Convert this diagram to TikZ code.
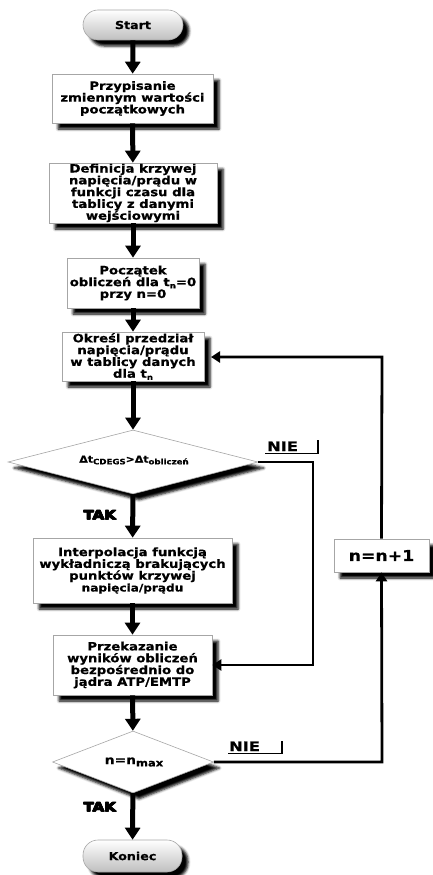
\documentclass[tikz,border=0pt]{standalone}
\usepackage{fontspec}
\setmainfont{DejaVu Sans}[FakeStretch=1.15,BoldFeatures={FakeBold=0.6}]
\newfontfamily\heavyfont{DejaVu Sans Bold}[FakeBold=2,FakeStretch=1.2]
\newfontfamily\labfont{DejaVu Sans Bold}[FakeStretch=1.25,FakeBold=0.8]
\usetikzlibrary{arrows.meta,shapes.geometric,shadows,shadows.blur}
\newcommand\mysub[1]{\raisebox{-0.35ex}{\fontsize{7.5}{7.5}\selectfont #1}}
\tikzset{
  shad/.style={blur shadow={shadow xshift=6pt,shadow yshift=-6pt,shadow blur radius=2.5pt,shadow opacity=100}},
  procbox/.style={draw=gray!70,line width=0.6pt,fill=white,align=center,inner sep=0pt,shad,
    font=\bfseries\fontsize{11.5}{11.8}\selectfont},
  termbox/.style={draw=gray!70,line width=0.6pt,rounded corners=15pt,align=center,inner sep=0pt,shad,
    top color=white,bottom color=gray!50,font=\bfseries\fontsize{11}{12}\selectfont},
  decbox/.style={diamond,draw=gray!70,line width=0.6pt,fill=white,aspect=1,inner sep=0pt,shad},
  arr/.style={line width=5pt,-{Triangle[width=15pt,length=12pt]}},
  larr/.style={line width=2.8pt,-{Triangle[width=11pt,length=9pt]}},
  lbl/.style={font=\labfont\fontsize{13}{13}\selectfont,inner sep=0pt},
  taklbl/.style={font=\heavyfont\fontsize{12.5}{12.5}\selectfont,inner sep=0pt},
}
\begin{document}
\begin{tikzpicture}[x=1pt,y=-1pt]
\useasboundingbox (0,0) rectangle (432,875);
\node[termbox,minimum width=100pt,minimum height=30pt] (start) at (133,25) {Start};
\node[procbox,minimum width=161pt,minimum height=49pt] (b1) at (132.5,98.5) {Przypisanie\\zmiennym wartości\\początkowych};
\node[procbox,minimum width=168pt,minimum height=60pt] (b2) at (133,193) {Definicja krzywej\\napięcia/prądu w\\funkcji czasu dla\\tablicy z danymi\\wejściowymi};
\node[procbox,minimum width=132pt,minimum height=50pt] (b3) at (133,283) {Początek\\obliczeń dla t\mysub{n}=0\\przy n=0};
\node[procbox,minimum width=142pt,minimum height=49pt] (b4) at (133,356.5) {Określ przedział\\napięcia/prądu\\w tablicy danych\\dla t\mysub{n}};
\node[decbox,minimum width=250pt,minimum height=64pt] (d1) at (133,462) {};
\node[font=\bfseries\fontsize{9.5}{9.5}\selectfont,inner sep=0pt] (d1t) at (134,460) {Δt\mysub{CDEGS}>Δt\mysub{obliczeń}};
\node[procbox,minimum width=199pt,minimum height=65pt] (b5) at (132.5,570.5) {Interpolacja funkcją\\wykładniczą brakujących\\punktów krzywej\\{\fontsize{10.5}{11}\selectfont napięcia/prądu}};
\node[procbox,minimum width=159pt,minimum height=60pt] (b6) at (132.5,665) {Przekazanie\\wyników obliczeń\\bezpośrednio do\\jądra ATP/EMTP};
\node[decbox,minimum width=161pt,minimum height=62pt] (d2) at (133,762) {};
\node[font=\bfseries\fontsize{12}{12}\selectfont,inner sep=0pt] (d2t) at (134,762) {n=n\mysub{\fontsize{10}{10}\selectfont max}};
\node[termbox,minimum width=99pt,minimum height=32pt] (end) at (132.5,856) {Koniec};
\node[procbox,minimum width=95pt,minimum height=33pt,font=\bfseries\fontsize{15}{15}\selectfont] (inc) at (381.5,555.5) {n=n+1};
% labels
\node[lbl,anchor=base west] (nie1) at (267,451) {NIE};
\node[lbl,anchor=base west] (nie2) at (229,751) {NIE};
\node[taklbl,anchor=base west] (tak1) at (83,519) {TAK};
\node[taklbl,anchor=base west] (tak2) at (83,811) {TAK};
\foreach \dx/\dy in {0.6/0,0/0.6,0.6/0.6}{
  \node[taklbl,anchor=base west] at (83+\dx,519+\dy) {TAK};
  \node[taklbl,anchor=base west] at (83+\dx,811+\dy) {TAK};
}
\coordinate (nie1a) at (265,453.5);
\coordinate (nie1b) at (318,453.5);
\coordinate (nie1c) at (318,440);
\draw[line width=1.4pt] (nie1a) -- (nie1b) -- (nie1c);
\coordinate (nie2a) at (228,753.5);
\coordinate (nie2b) at (282,753.5);
\coordinate (nie2c) at (282,741);
\draw[line width=1.4pt] (nie2a) -- (nie2b) -- (nie2c);
% main flow
\draw[arr] (start) -- (b1);
\draw[arr] (b1) -- (b2);
\draw[arr] (b2) -- (b3);
\draw[arr] (b3) -- (b4);
\draw[arr] (b4) -- (d1);
\draw[arr] (d1) -- (b5);
\draw[arr] (b5) -- (b6);
\draw[arr] (b6) -- (d2);
\draw[arr] (d2) -- (end);
% side branches
\coordinate (c1) at (313,462);
\draw[larr] (d1.east) -- (c1) |- (b6.east);
\coordinate (c2) at (382,762);
\draw[larr] (d2.east) -- (c2) -- (inc.south);
\coordinate (c3) at (382,357);
\coordinate (b4r) at (211,357);
\draw[larr] (inc.north) -- (c3) -- (b4r);
\end{tikzpicture}
\end{document}
